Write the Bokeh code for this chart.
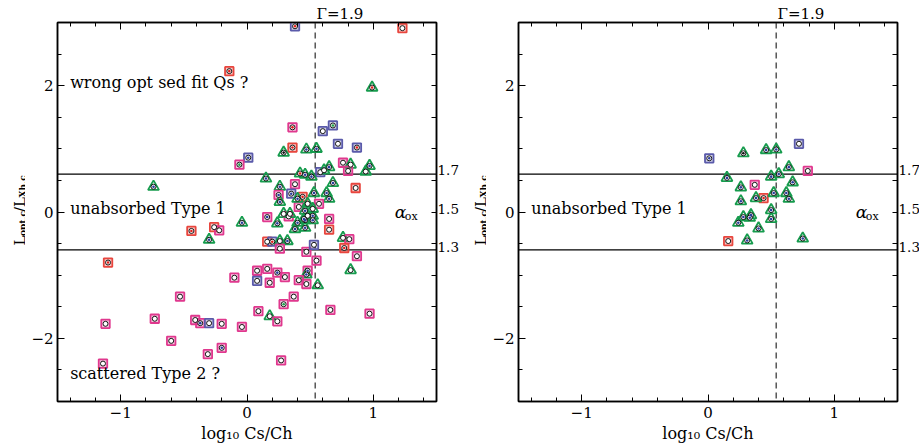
import math
from bokeh.plotting import figure
from bokeh.models import LinearAxis, FixedTicker, Label, Span, ColumnDataSource
from bokeh.layouts import row
from bokeh.embed import file_html
from bokeh.resources import INLINE
from bokeh.core.properties import value

# ---------------- data ----------------
# shape codes: sr = red square, sm = magenta square, sb = blue square, tg = green triangle
# dot codes: '' none, r red, b blue, g green, k black
LEFT_X = [0.38, 1.23, -0.14, 0.99, 0.36, 0.60, 0.68, 0.72, 0.87, 0.36,
          0.29, 0.47, 0.55, 0.01, -0.06, 0.76, 0.82, 0.80, 0.97, 0.94,
          0.65, 0.58, 0.42, 0.46, 0.51, 0.61, 0.15, 0.68, -0.74, 0.38,
          0.26, 0.86, 0.35, 0.25, 0.44, 0.53, 0.63, 0.65, 0.26, 0.57,
          0.41, 0.40, 0.48, 0.46, 0.52, 0.52, 0.48, 0.46, 0.40, 0.45,
          0.52, 0.46, 0.38, 0.29, 0.33, 0.34, 0.16, -0.04, 0.24, 0.65,
          0.65, -0.26, -0.22, -0.44, -0.30, 0.16, 0.20, 0.26, 0.32, 0.26,
          0.47, 0.53, 0.76, 0.81, 0.77, 0.87, 0.55, -1.10, 0.82, 0.08,
          0.16, 0.24, 0.30, 0.48, 0.47, 0.41, 0.47, 0.56, -0.10, 0.08,
          0.18, -0.53, 0.37, 0.29, 0.66, 0.09, 0.97, 0.18, 0.24, -0.73,
          -1.12, -0.41, -0.37, -0.30, -0.20, -0.04, -0.60, -0.20, -0.31, 0.27,
          -1.14]
LEFT_Y = [2.94, 2.91, 2.23, 1.97, 1.34, 1.28, 1.37, 1.08, 1.02, 1.02,
          0.94, 0.99, 1.00, 0.86, 0.75, 0.78, 0.75, 0.65, 0.73, 0.64,
          0.71, 0.63, 0.61, 0.59, 0.56, 0.66, 0.53, 0.46, 0.40, 0.44,
          0.40, 0.38, 0.29, 0.27, 0.24, 0.30, 0.30, 0.21, 0.16, 0.13,
          0.08, 0.21, 0.13, 0.02, 0.05, -0.06, -0.06, -0.13, -0.17, -0.11,
          -0.13, -0.25, -0.27, -0.03, -0.07, -0.03, -0.08, -0.17, -0.18, -0.11,
          -0.28, -0.24, -0.29, -0.30, -0.44, -0.47, -0.47, -0.46, -0.46, -0.58,
          -0.63, -0.52, -0.41, -0.43, -0.57, -0.70, -0.77, -0.80, -0.92, -0.93,
          -0.90, -0.96, -1.03, -0.93, -0.99, -1.08, -1.14, -1.16, -1.04, -1.09,
          -1.12, -1.34, -1.34, -1.46, -1.55, -1.57, -1.61, -1.65, -1.73, -1.69,
          -1.77, -1.71, -1.76, -1.76, -1.77, -1.82, -2.04, -2.15, -2.25, -2.35,
          -2.40]
LEFT_SHAPE = ["sb", "sr", "sr", "tg", "sm", "sb", "sb", "sb", "sb", "sr",
              "tg", "tg", "tg", "sb", "sm", "sm", "tg", "sm", "tg", "tg",
              "tg", "sb", "tg", "tg", "tg", "tg", "tg", "tg", "tg", "sm",
              "tg", "sr", "sb", "sm", "sr", "tg", "tg", "tg", "tg", "sm",
              "sm", "tg", "tg", "tg", "tg", "tg", "tg", "tg", "tg", "tg",
              "tg", "tg", "tg", "tg", "sm", "tg", "sm", "tg", "tg", "sm",
              "sr", "sr", "sm", "sr", "tg", "sr", "sb", "tg", "tg", "sm",
              "sm", "sb", "tg", "sm", "sr", "sm", "sm", "sr", "tg", "sm",
              "sm", "sm", "sm", "sm", "tg", "sm", "sm", "tg", "sm", "sb",
              "sm", "sm", "sm", "sm", "sm", "sm", "sm", "tg", "sm", "sm",
              "sm", "sm", "sm", "sb", "sm", "sm", "sm", "sm", "sm", "sm",
              "sm"]
LEFT_DOT = ["r", "", "r", "r", "r", "", "g", "", "r", "r",
            "k", "b", "b", "b", "g", "", "", "", "b", "",
            "b", "", "r", "b", "b", "", "b", "b", "b", "",
            "b", "", "b", "b", "r", "b", "b", "b", "b", "",
            "", "b", "", "b", "", "b", "", "b", "b", "b",
            "b", "b", "b", "", "", "", "b", "b", "b", "",
            "", "", "", "r", "b", "", "r", "", "b", "",
            "", "", "", "", "r", "", "", "r", "", "",
            "", "b", "", "b", "b", "", "", "", "", "",
            "", "", "", "g", "", "", "", "", "", "",
            "", "", "b", "", "", "", "", "b", "", "",
            ""]

RIGHT_X = [0.01, 0.28, 0.46, 0.54, 0.72, 0.64, 0.79, 0.15, 0.50, 0.56,
           0.67, 0.26, 0.37, 0.44, 0.38, 0.52, 0.62, 0.64, 0.26, 0.50,
           0.50, 0.34, 0.28, 0.33, 0.24, 0.40, 0.16, 0.31, 0.75]
RIGHT_Y = [0.85, 0.93, 0.98, 0.99, 1.08, 0.71, 0.65, 0.54, 0.56, 0.60,
           0.47, 0.39, 0.43, 0.22, 0.22, 0.30, 0.30, 0.21, 0.17, 0.03,
           -0.11, -0.05, -0.08, -0.09, -0.17, -0.26, -0.46, -0.45, -0.42]
RIGHT_SHAPE = ["sb", "tg", "tg", "tg", "sb", "tg", "sm", "tg", "tg", "tg",
               "tg", "tg", "sm", "sr", "tg", "tg", "tg", "tg", "tg", "tg",
               "tg", "tg", "tg", "tg", "tg", "tg", "sr", "tg", "tg"]
RIGHT_DOT = ["b", "k", "b", "b", "", "b", "", "b", "b", "b",
             "b", "b", "", "r", "b", "b", "b", "b", "b", "b",
             "b", "b", "b", "b", "b", "b", "", "b", "b"]

GAMMA_X = 0.54
GAMMA_LABEL = "\u0393=1.9"
ALPHA_LINES = [0.6, -0.6]
ALPHA_LABELS = ["1.7", "1.5", "1.3"]
ALPHA_LABEL_Y = [0.66, 0.05, -0.55]
X_TICKS = [-1, 0, 1]
X_TICK_LABELS = ["\u22121", "0", "1"]
X_MINOR = [-1.4, -1.2, -0.8, -0.6, -0.4, -0.2, 0.2, 0.4, 0.6, 0.8, 1.2, 1.4]
Y_TICKS = [-2, 0, 2]
Y_TICK_LABELS = ["\u22122", "0", "2"]
Y_MINOR = [-2.5, -1.5, -1, -0.5, 0.5, 1, 1.5, 2.5]
RIGHT_MINOR = [-2.5, -2, -1.5, -1, -0.5, 0, 0.5, 1, 1.5, 2, 2.5]

LEFT_TEXTS = [("wrong opt sed fit Qs ?", 2.05), ("unabsorbed Type 1", 0.05), ("scattered Type 2 ?", -2.55)]
RIGHT_TEXTS = [("unabsorbed Type 1", 0.05)]

# y-axis label pieces: L_opt,c / L_Xh,c
YLAB_TEXT = ["L", "opt,c", "/", "L", "Xh,c"]
YLAB_SUB = [False, True, False, False, True]

SHAPE_COLOR = {"sr": "#e8463e", "sm": "#e0388e", "sb": "#5a5aaa", "tg": "#179c4e"}
DOT_COLOR = {"r": "#e0201c", "b": "#2a3c9c", "g": "#1ea04a", "k": "#111111"}
FONT = "DejaVu Serif"
FRAME_W = 379
FRAME_H = 379
TOP = 22
BOTTOM = 45
YLAB_W = 25
BORDER_L = 32
BORDER_R = 23


def make_ylabel():
    f = figure(frame_width=YLAB_W, frame_height=FRAME_H, x_range=(0, YLAB_W), y_range=(0, FRAME_H),
               output_backend="svg", toolbar_location=None, x_axis_type=None, y_axis_type=None,
               min_border_left=0, min_border_right=0, min_border_top=TOP, min_border_bottom=BOTTOM)
    f.grid.visible = False
    f.outline_line_color = None
    # start of each rotated piece (pixels up from the frame bottom)
    starts = [156, 165.5, 189.5, 194.5, 204]
    for t, sub, s in zip(YLAB_TEXT, YLAB_SUB, starts):
        f.text(x=[22.0 if sub else 19.0], y=[s], text=[t], angle=math.pi / 2,
               text_font=value(FONT), text_font_size="9px" if sub else "15px",
               text_font_style="bold" if sub else "normal",
               text_baseline="alphabetic", text_align="left", text_color="black")
    return f


def make_panel(xs, ys, shapes, dots, texts):
    p = figure(frame_width=FRAME_W, frame_height=FRAME_H, x_range=(-1.5, 1.5), y_range=(-3, 3),
               output_backend="svg", toolbar_location=None,
               min_border_left=BORDER_L, min_border_right=BORDER_R,
               min_border_top=TOP, min_border_bottom=BOTTOM,
               background_fill_color="white", border_fill_color="white")
    p.grid.visible = False
    p.outline_line_color = "black"
    p.outline_line_width = 1.5

    # Gamma label above the frame, starting at the dashed line
    p.title.text = GAMMA_LABEL
    p.title.align = "left"
    p.title.offset = 259
    p.title.standoff = 0
    p.title.text_font = FONT
    p.title.text_font_size = "15px"
    p.title.text_font_style = "normal"
    p.title.text_color = "black"

    xax = p.xaxis[0]
    xax.ticker = FixedTicker(ticks=X_TICKS, minor_ticks=X_MINOR)
    xax.major_label_overrides = dict(zip(X_TICKS, X_TICK_LABELS))
    yax = p.yaxis[0]
    yax.ticker = FixedTicker(ticks=Y_TICKS, minor_ticks=Y_MINOR)
    yax.major_label_overrides = dict(zip(Y_TICKS, Y_TICK_LABELS))

    top = LinearAxis(ticker=FixedTicker(ticks=X_TICKS, minor_ticks=X_MINOR),
                     major_label_overrides={t: "" for t in X_TICKS}, major_label_standoff=0)
    right = LinearAxis(ticker=FixedTicker(ticks=ALPHA_LABEL_Y, minor_ticks=RIGHT_MINOR),
                       major_label_overrides=dict(zip(ALPHA_LABEL_Y, ALPHA_LABELS)))
    p.add_layout(top, "above")
    p.add_layout(right, "right")

    for ax in [xax, yax, top, right]:
        ax.major_tick_in = 7
        ax.major_tick_out = 0
        ax.minor_tick_in = 4
        ax.minor_tick_out = 0
        ax.major_tick_line_color = "black"
        ax.minor_tick_line_color = "black"
        ax.axis_line_color = "black"
        ax.axis_line_width = 1.5
    right.major_tick_in = 0
    right.minor_tick_in = 5
    for ax in [xax, yax, right]:
        ax.major_label_text_font = FONT
        ax.major_label_text_font_size = "15px"
        ax.major_label_text_color = "black"
    right.major_label_text_font_size = "13.5px"
    xax.major_label_standoff = 5
    yax.major_label_standoff = 4
    right.major_label_standoff = 1
    xax.axis_label = "log\u2081\u2080 Cs/Ch"
    xax.axis_label_text_font = FONT
    xax.axis_label_text_font_size = "16px"
    xax.axis_label_text_font_style = "normal"
    xax.axis_label_text_color = "black"
    xax.axis_label_standoff = 3

    # reference lines
    p.add_layout(Span(location=GAMMA_X, dimension="height", line_dash="6 4",
                      line_color="#555555", line_width=1.5, level="underlay"))
    for yl in ALPHA_LINES:
        p.add_layout(Span(location=yl, dimension="width", line_color="black",
                          line_width=1.2, level="underlay"))

    # markers
    marker = ["square" if s != "tg" else "triangle" for s in shapes]
    size = [8.5 if s != "tg" else 11 for s in shapes]
    lc = [SHAPE_COLOR[s] for s in shapes]
    fa = [0.28 if s != "tg" else 0.0 for s in shapes]
    src = ColumnDataSource(dict(x=xs, y=ys, marker=marker, size=size, lc=lc, fa=fa))
    p.scatter("x", "y", source=src, marker="marker", size="size", line_color="lc",
              fill_color="lc", fill_alpha="fa", line_width=1.8)
    p.scatter("x", "y", source=src, marker="circle", size=5, line_color="black",
              fill_color="white", line_width=0.9)
    dx = [x for x, d in zip(xs, dots) if d]
    dy = [y for y, d in zip(ys, dots) if d]
    dc = [DOT_COLOR[d] for d in dots if d]
    p.scatter(dx, dy, marker="circle", size=2.6, fill_color=dc, line_color=None)

    # inner texts
    for t, ty in texts:
        p.add_layout(Label(x=-1.40, y=ty, text=t, text_font=FONT, text_font_size="16px",
                           text_baseline="middle", text_color="black"))
    p.add_layout(Label(x=1.17, y=0.0, text="\u03b1", text_font=FONT, text_font_style="italic",
                       text_font_size="17px", text_baseline="middle", text_color="black"))
    p.add_layout(Label(x=1.17, y=0.0, x_offset=10, y_offset=-4, text="ox", text_font=FONT,
                       text_font_size="11px", text_baseline="middle", text_color="black"))
    return p


p1 = make_panel(LEFT_X, LEFT_Y, LEFT_SHAPE, LEFT_DOT, LEFT_TEXTS)
p2 = make_panel(RIGHT_X, RIGHT_Y, RIGHT_SHAPE, RIGHT_DOT, RIGHT_TEXTS)
layout = row(make_ylabel(), p1, make_ylabel(), p2)
open("out.html", "w").write(file_html(layout, INLINE))
